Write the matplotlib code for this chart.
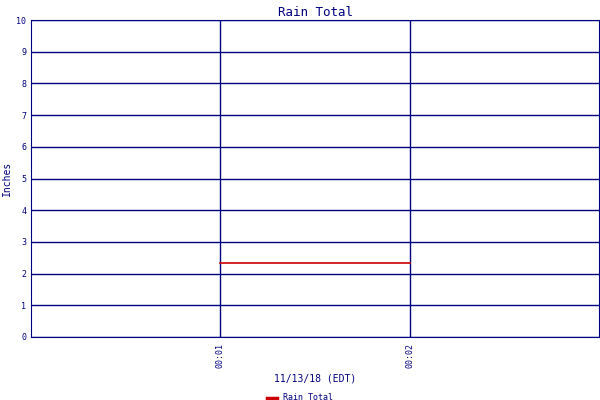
import matplotlib
matplotlib.use("Agg")
import matplotlib.pyplot as plt

times = [1, 2]  # minutes after 00:00
rain = [2.33, 2.33]
tick_pos = [1, 2]
tick_labels = ["00:01", "00:02"]

navy = "#000080"
fig = plt.figure(figsize=(6, 4), dpi=100)
ax = fig.add_axes([31/600, 63/400, 568/600, 317/400])
ax.plot(times, rain, color="#cc0000", lw=1.2, label="Rain Total")
ax.set_xlim(0.005, 2.995)
ax.set_ylim(0, 10)
ax.set_yticks(range(11))
ax.set_xticks(tick_pos)
ax.set_xticklabels(tick_labels, rotation=90, family="DejaVu Sans Mono", fontsize=6, color=navy)
ax.tick_params(axis="y", labelsize=6, colors=navy, length=0)
ax.tick_params(axis="x", length=0, pad=4)
for lbl in ax.get_yticklabels():
    lbl.set_family("DejaVu Sans Mono")
ax.grid(True, color=navy, lw=1)
for s in ax.spines.values():
    s.set_color(navy)
ax.set_title("Rain Total", family="DejaVu Sans Mono", fontsize=9, color=navy, pad=3)
ax.set_ylabel("Inches", family="DejaVu Sans Mono", fontsize=7, color=navy, labelpad=3)
ax.set_xlabel("11/13/18 (EDT)", family="DejaVu Sans Mono", fontsize=7, color=navy, labelpad=4)
leg = fig.legend(loc="lower center", bbox_to_anchor=(0.5, -0.025), frameon=False,
                 prop={"family": "DejaVu Sans Mono", "size": 6}, handlelength=1.2)
for line in leg.get_lines():
    line.set_linewidth(2.5)
for t in leg.get_texts():
    t.set_color(navy)
fig.savefig("out.png")
